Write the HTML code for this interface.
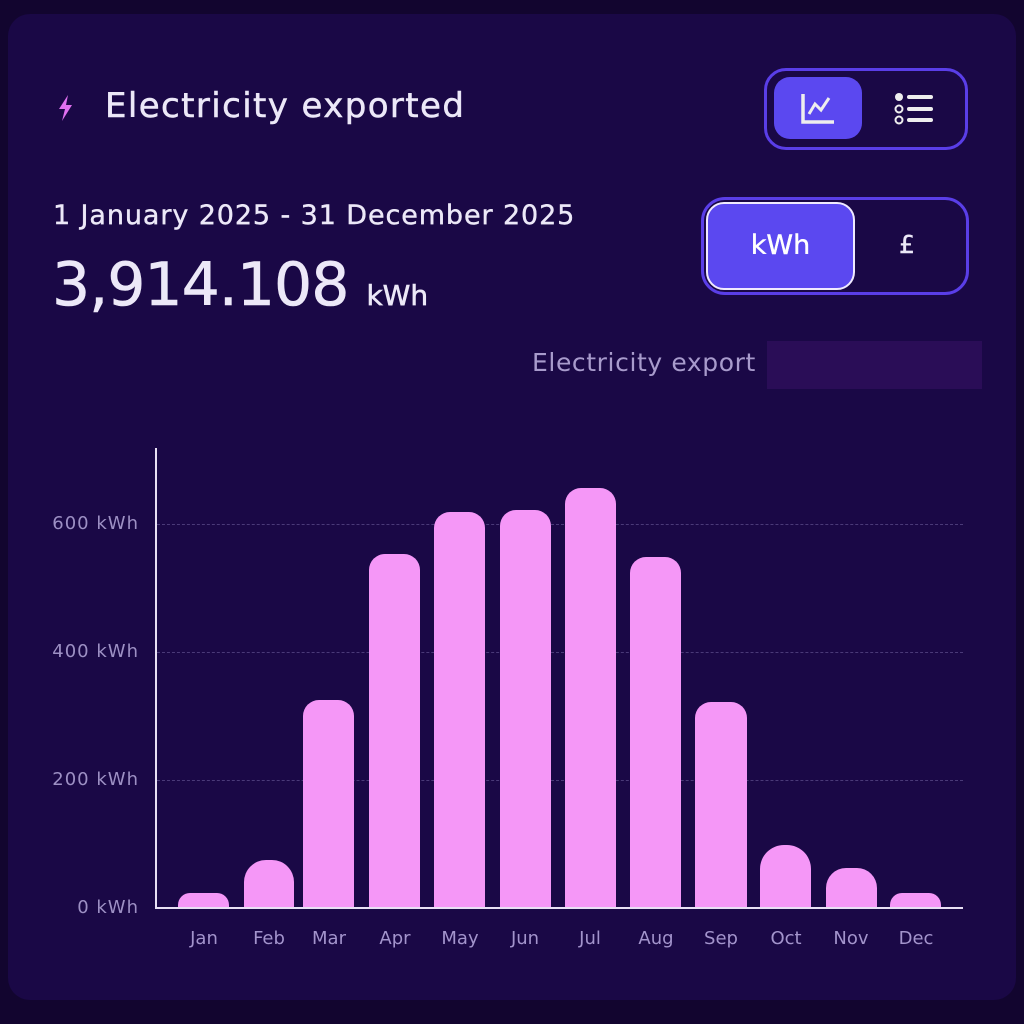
<!DOCTYPE html>
<html><head><meta charset="utf-8"><style>
body{margin:0;width:1024px;height:1024px;background:#12052f;font-family:"DejaVu Sans",sans-serif;overflow:hidden;position:relative}
.card{position:absolute;left:8px;top:14px;width:1008px;height:986px;background:#1a0846;border-radius:22px}
.abs{position:absolute;white-space:nowrap}
.t{color:#ece8f8}
.bar{position:absolute;background:#f597f7;border-radius:16px 16px 0 0}
.gl{position:absolute;left:157px;width:806px;border-top:1px dashed #4a3a78}
.yl{position:absolute;right:885px;color:#9d90c4;font-size:18px;letter-spacing:1px}
.xl{position:absolute;top:928px;color:#a394cc;font-size:18px;width:60px;text-align:center}
</style></head><body>
<div class="card"></div>
<svg class="abs" style="left:56px;top:94px" width="20" height="28" viewBox="0 0 20 28"><path d="M12 1 L3 15 H9 L6 27 L16 11 H10 Z" fill="#e070f0"/></svg>
<div class="abs t" style="left:105px;top:86px;font-size:34px;letter-spacing:1.4px;-webkit-text-stroke:0.5px #ece8f8">Electricity exported</div>
<div class="abs" style="left:764px;top:68px;width:204px;height:82px;border:3px solid #5a3ee8;border-radius:22px;box-sizing:border-box"></div>
<div class="abs" style="left:774px;top:77px;width:88px;height:62px;background:#5b48f0;border-radius:16px"></div>
<svg class="abs" style="left:800px;top:92px" width="36" height="34"><path d="M3 2 V30 H34" stroke="#eee" stroke-width="3.5" fill="none"/><path d="M9 22 L15 12 L21 18 L29 6" stroke="#eee" stroke-width="3" fill="none"/></svg>
<svg class="abs" style="left:894px;top:92px" width="40" height="34"><circle cx="5" cy="5" r="4" fill="#eee"/><circle cx="5" cy="17" r="3.5" stroke="#eee" stroke-width="2" fill="none"/><circle cx="5" cy="28" r="3.5" stroke="#eee" stroke-width="2" fill="none"/><rect x="13" y="3" width="26" height="4" rx="2" fill="#eee"/><rect x="13" y="15" width="26" height="4" rx="2" fill="#eee"/><rect x="13" y="26" width="26" height="4" rx="2" fill="#eee"/></svg>
<div class="abs t" style="left:53px;top:200px;font-size:27px;letter-spacing:0.9px;-webkit-text-stroke:0.4px #ece8f8">1 January 2025 - 31 December 2025</div>
<div class="abs t" style="left:52px;top:250px;font-size:60px;letter-spacing:-1px;-webkit-text-stroke:0.6px #ece8f8">3,914.108 <span style="font-size:28px;letter-spacing:0">kWh</span></div>
<div class="abs" style="left:701px;top:197px;width:268px;height:98px;border:3px solid #5a3ee8;border-radius:24px;box-sizing:border-box"></div>
<div class="abs" style="left:706px;top:202px;width:149px;height:88px;background:#5b48f0;border:2px solid #f0eaff;border-radius:18px;box-sizing:border-box;color:#fff;font-size:27px;line-height:84px;text-align:center;-webkit-text-stroke:0.4px #fff">kWh</div>
<div class="abs t" style="left:899px;top:230px;font-size:25px;-webkit-text-stroke:0.4px #ece8f8">£</div>
<div class="abs" style="left:532px;top:348px;color:#a89bcc;font-size:25px;letter-spacing:0.6px">Electricity export</div>
<div class="abs" style="left:767px;top:341px;width:215px;height:48px;background:#2a0d57"></div>
<div class="gl" style="top:524px"></div><div class="gl" style="top:652px"></div><div class="gl" style="top:780px"></div>
<div class="yl" style="top:513px">600 kWh</div><div class="yl" style="top:641px">400 kWh</div><div class="yl" style="top:769px">200 kWh</div><div class="yl" style="top:897px">0 kWh</div>
<div class="bar" style="left:178px;width:51px;top:893px;height:15px;border-radius:12px 12px 0 0"></div>
<div class="bar" style="left:244px;width:50px;top:860px;height:48px;border-radius:22px 22px 0 0"></div>
<div class="bar" style="left:303px;width:51px;top:700px;height:208px"></div>
<div class="bar" style="left:369px;width:51px;top:554px;height:354px"></div>
<div class="bar" style="left:434px;width:51px;top:512px;height:396px"></div>
<div class="bar" style="left:500px;width:51px;top:510px;height:398px"></div>
<div class="bar" style="left:565px;width:51px;top:488px;height:420px"></div>
<div class="bar" style="left:630px;width:51px;top:557px;height:351px"></div>
<div class="bar" style="left:695px;width:52px;top:702px;height:206px"></div>
<div class="bar" style="left:760px;width:51px;top:845px;height:63px;border-radius:24px 24px 0 0"></div>
<div class="bar" style="left:826px;width:51px;top:868px;height:40px;border-radius:20px 20px 0 0"></div>
<div class="bar" style="left:890px;width:51px;top:893px;height:15px;border-radius:12px 12px 0 0"></div>
<div class="abs" style="left:155px;top:448px;width:2px;height:461px;background:#e8e0f4"></div>
<div class="abs" style="left:155px;top:907px;width:808px;height:2px;background:#e8e0f4"></div>
<div class="xl" style="left:174px">Jan</div><div class="xl" style="left:239px">Feb</div><div class="xl" style="left:299px">Mar</div><div class="xl" style="left:365px">Apr</div><div class="xl" style="left:430px">May</div><div class="xl" style="left:495px">Jun</div><div class="xl" style="left:560px">Jul</div><div class="xl" style="left:626px">Aug</div><div class="xl" style="left:691px">Sep</div><div class="xl" style="left:756px">Oct</div><div class="xl" style="left:821px">Nov</div><div class="xl" style="left:886px">Dec</div>
</body></html>
